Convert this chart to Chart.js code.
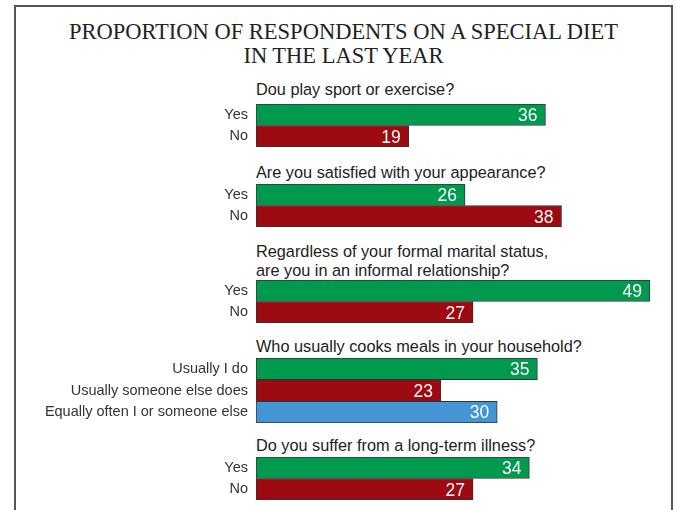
<!DOCTYPE html>
<html>
<head>
<meta charset="utf-8">
<script src="https://cdn.jsdelivr.net/npm/chart.js@4.4.1/dist/chart.umd.min.js"></script>
<style>
  body { margin: 0; background: #fff; }
  #frame {
    position: absolute; left: 14px; top: 5px; width: 655px; height: 600px;
    border: 2px solid #555; border-bottom: none;
  }
  #title {
    position: absolute; left: 14px; top: 20px; width: 659px; text-align: center;
    font: 22.5px "Liberation Serif", "Times New Roman", serif; line-height: 23.5px; color: #222;
  }
  .question {
    position: absolute; left: 256px;
    font: 16.3px "Liberation Sans", Arial, sans-serif; line-height: 19px; color: #222;
  }
  .block { position: absolute; left: 0; width: 678px; }
</style>
</head>
<body>
<div id="frame"></div>
<div id="title">PROPORTION OF RESPONDENTS ON A SPECIAL DIET<br>IN THE LAST YEAR</div>
<div id="groups"></div>
<script>
// survey data, one entry per question
const questions = [
  ['Dou play sport or exercise?'],
  ['Are you satisfied with your appearance?'],
  ['Regardless of your formal marital status,', 'are you in an informal relationship?'],
  ['Who usually cooks meals in your household?'],
  ['Do you suffer from a long-term illness?']
];
const answers = [
  ['Yes', 'No'],
  ['Yes', 'No'],
  ['Yes', 'No'],
  ['Usually I do', 'Usually someone else does', 'Equally often I or someone else'],
  ['Yes', 'No']
];
const values = [
  [36, 19],
  [26, 38],
  [49, 27],
  [35, 23, 30],
  [34, 27]
];

// layout: top of the question text and of the first bar in each block
const questionTop = [80, 163, 242, 337, 436];
const barTop = [104, 184, 280, 358, 457];
const rowHeight = 21.5;
const colours = ['#009a4e', '#9e0a12', '#4495d3'];

const valueLabels = {
  id: 'valueLabels',
  afterDatasetsDraw(chart) {
    const ctx = chart.ctx;
    const ds = chart.data.datasets[0];
    ctx.save();
    ctx.font = '17.5px "Liberation Sans", Arial, sans-serif';
    ctx.fillStyle = '#fff';
    ctx.textAlign = 'right';
    ctx.textBaseline = 'middle';
    chart.getDatasetMeta(0).data.forEach((bar, i) => {
      ctx.fillText(String(ds.data[i]), bar.x - 8, bar.y + 1.5);
    });
    ctx.restore();
  }
};

const holder = document.getElementById('groups');

questions.forEach((lines, g) => {
  const q = document.createElement('div');
  q.className = 'question';
  q.style.top = questionTop[g] + 'px';
  q.innerHTML = lines.join('<br>');
  holder.appendChild(q);

  const n = values[g].length;
  const box = document.createElement('div');
  box.className = 'block';
  box.style.top = (barTop[g] - 1) + 'px';
  box.style.height = (Math.round(n * rowHeight) + 2) + 'px';
  const canvas = document.createElement('canvas');
  box.appendChild(canvas);
  holder.appendChild(box);

  new Chart(canvas, {
    type: 'bar',
    data: {
      labels: answers[g],
      datasets: [{
        data: values[g],
        backgroundColor: colours.slice(0, n),
        borderColor: '#333',
        borderWidth: 1,
        borderSkipped: false,
        barPercentage: 1,
        categoryPercentage: 1
      }]
    },
    options: {
      responsive: true,
      maintainAspectRatio: false,
      animation: false,
      indexAxis: 'y',
      layout: { padding: { top: 1, bottom: 1, left: 0, right: 20 } },
      plugins: {
        legend: { display: false },
        tooltip: { enabled: false }
      },
      scales: {
        x: { display: false, min: 0, max: 50 },
        y: {
          grid: { display: false, drawTicks: false },
          border: { display: false },
          ticks: {
            padding: 8,
            color: '#333',
            font: { family: '"Liberation Sans", Arial, sans-serif', size: 14.5 }
          },
          afterFit(scale) {
            // fixed gutter for the answer labels, no extra room above/below
            scale.width = 256;
            scale.paddingTop = 0;
            scale.paddingBottom = 0;
          }
        }
      }
    },
    plugins: [valueLabels]
  });
});
</script>
</body>
</html>
